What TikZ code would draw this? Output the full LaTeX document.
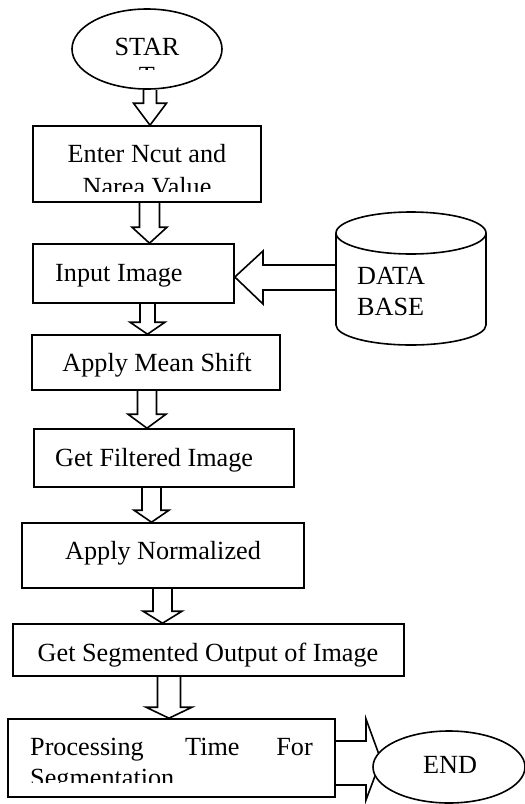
\documentclass[tikz,border=0pt]{standalone}
\usepackage{fontspec}
\setmainfont{Liberation Serif}
\usetikzlibrary{shapes.geometric,fit,calc}

% hollow block arrow pointing down, from the bottom of #1 to the top of #2
% #3 = x of the axis, #4 = half shaft width, #5 = half head width, #6 = head length
\newcommand\blkdown[6]{%
  \draw[blk] let \p1=(#1.south), \p2=(#2.north) in
    ({(#3-#4)*1pt},\y1) -- ({(#3-#4)*1pt},{\y2+#6pt}) -- ({(#3-#5)*1pt},{\y2+#6pt})
    -- ({#3*1pt},\y2) -- ({(#3+#5)*1pt},{\y2+#6pt}) -- ({(#3+#4)*1pt},{\y2+#6pt})
    -- ({(#3+#4)*1pt},\y1);}

\begin{document}
\begin{tikzpicture}[x=1pt,y=-1pt,
  outline/.style={line width=1.6pt},
  box/.style={outline, draw, rectangle, inner sep=0pt},
  oval/.style={outline, draw, ellipse, inner sep=0pt, fill=white},
  lbl/.style={font=\fontsize{26.2}{30}\selectfont, inner sep=0pt},
  blk/.style={outline, line join=miter}]

\useasboundingbox (0,0) rectangle (525,804);

% start terminal
\node[oval, minimum width=150pt, minimum height=80pt] (start) at (147,49) {};
\node[lbl, anchor=base] (startlbl) at (147,55) {STAR};
\begin{scope}
  \clip (120,60) rectangle (175,69);
  \node[lbl, anchor=base] (startcut) at (147,84.5) {T};
\end{scope}

% process boxes
\node[box, fit={(33,126) (261,202)}] (b1) {};
\node[lbl, anchor=base] (b1a) at (147,162) {Enter Ncut and};
\begin{scope}
  \clip (40,170) rectangle (255,191.5);
  \node[lbl, anchor=base] (b1b) at (147,195) {Narea Value};
\end{scope}

\node[box, fit={(33,244) (234,303)}] (b2) {};
\node[lbl, anchor=base west] (b2a) at (55,281) {Input Image};

\node[box, fit={(32,335) (280,390)}] (b3) {};
\node[lbl, anchor=base] (b3a) at (157,371) {Apply Mean Shift};

\node[box, fit={(34,429) (294,487)}] (b4) {};
\node[lbl, anchor=base west] (b4a) at (55,466) {Get Filtered Image};

\node[box, fit={(22,523) (304,588)}] (b5) {};
\node[lbl, anchor=base] (b5a) at (163,559) {Apply Normalized};

\node[box, fit={(13,624) (404,676)}] (b6) {};
\node[lbl, anchor=base] (b6a) at (208,661) {Get Segmented Output of Image};

\node[box, fit={(8,719) (335,797)}] (b7) {};
\node[lbl, anchor=base west] (b7a) at (30,755) {Processing};
\node[lbl, anchor=base west] (b7b) at (185,755) {Time};
\node[lbl, anchor=base east] (b7c) at (313,755) {For};
\begin{scope}
  \clip (20,760) rectangle (320,782.5);
  \node[lbl, anchor=base west] (b7d) at (30,786) {Segmentation};
\end{scope}

% database cylinder
\draw[outline] (411,233) ellipse [x radius=75pt, y radius=21pt];
\draw[outline] (336,233) -- (336,325) arc[start angle=180, end angle=360, x radius=75pt, y radius=20pt] -- (486,233);
\node[inner sep=0pt, minimum width=150pt, minimum height=133pt] (db) at (411,278.5) {};
\node[lbl, anchor=base west] (dba) at (357,284) {DATA};
\node[lbl, anchor=base west] (dbb) at (357,315) {BASE};

% down arrows between the steps
\blkdown{start}{b1}{150}{6.5}{16.5}{22}
\blkdown{b1}{b2}{149.5}{10}{17.5}{16}
\blkdown{b2}{b3}{147.5}{7.5}{17.5}{12}
\blkdown{b3}{b4}{147}{9.5}{19}{14}
\blkdown{b4}{b5}{151.5}{9.5}{17.5}{12}
\blkdown{b5}{b6}{162.5}{9.5}{19.5}{12}
\blkdown{b6}{b7}{169}{11.5}{23}{11}

% arrow from the database into the input step
\draw[blk] let \p1=(db.west), \p2=(b2.east) in
  (\x1,265) -- (263,265) -- (263,251) -- (\x2,277) -- (263,304) -- (263,290) -- (\x1,290);

% arrow from the last step to the end terminal
\draw[blk] let \p1=(b7.east) in
  (\x1,741) -- (366,741) -- (366,719) -- (381,760) -- (366,800) -- (366,785) -- (\x1,785);
\node[oval, minimum width=152pt, minimum height=72pt] (end) at (449,767) {};
\node[lbl, anchor=base] (endlbl) at (450,773) {END};

\end{tikzpicture}
\end{document}
